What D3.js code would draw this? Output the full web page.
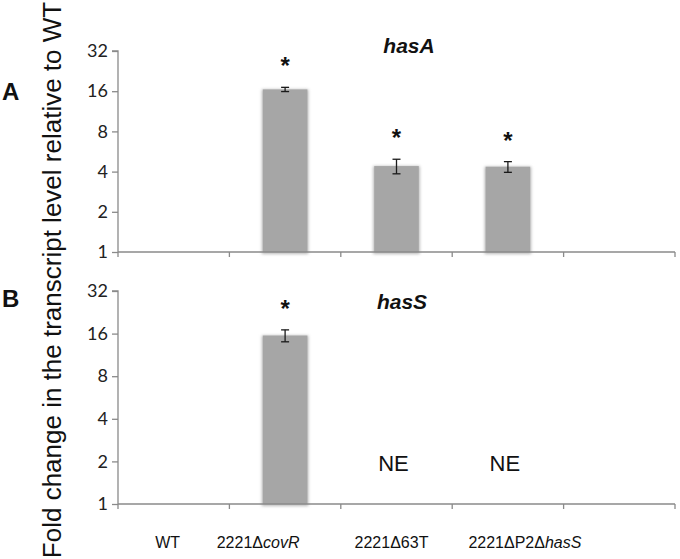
<!DOCTYPE html>
<html>
<head>
<meta charset="utf-8">
<script src="https://cdn.jsdelivr.net/npm/d3@7"></script>
<style>
  html, body { margin: 0; padding: 0; background: #fff; }
  svg { display: block; }
</style>
</head>
<body>
<svg id="chart" width="680" height="559"></svg>
<script>
// ---- data ----
const categories = ["WT", "2221ΔcovR", "2221Δ63T", "2221ΔP2ΔhasS"];
const italicParts = ["", "covR", "", "hasS"];
const hasAValues = [1, 16.5, 4.4, 4.35];
const hasAErrors = [0, 0.6, 0.55, 0.4];
const hasASig = [false, true, true, true];
const hasSValues = [1, 15.5, null, null];
const hasSErrors = [0, 1.5, 0, 0];
const hasSSig = [false, true, false, false];
const yTicks = [1, 2, 4, 8, 16, 32];
const panelTitles = ["hasA", "hasS"];
const panelLetters = ["A", "B"];
const notExpressed = "NE";
const yLabel = "Fold change in the transcript level relative to WT";

// ---- layout / style ----
const left = 118, right = 675;
const axisColor = "#8a8a8a";
const barColor = "#a6a6a6";
const labelNudge = [-6, -27, -5, 17];

const svg = d3.select("#chart");
const defs = svg.append("defs");
defs.append("filter").attr("id", "soft")
  .attr("x", "-20%").attr("y", "-5%").attr("width", "140%").attr("height", "110%")
  .append("feGaussianBlur").attr("stdDeviation", 1.6);

const slots = [...categories, "__empty__"];
const x = d3.scaleBand().domain(slots).range([left, right]).paddingInner(0.6).paddingOuter(0.3);
const step = x.step();
const boundaries = d3.range(slots.length + 1).map(i => left + i * step);
const xc = c => left + (slots.indexOf(c) + 0.5) * step;
const bw = step * 0.4;

const panels = [
  { values: hasAValues, errors: hasAErrors, sig: hasASig, range: [252, 51], title: panelTitles[0], letter: panelLetters[0], letterY: 100, titleY: 53, titleX: 409 },
  { values: hasSValues, errors: hasSErrors, sig: hasSSig, range: [504, 291], title: panelTitles[1], letter: panelLetters[1], letterY: 307, titleY: 309, titleX: 402 }
];

panels.forEach(p => {
  const y = d3.scaleLog().base(2).domain([1, 32]).range(p.range);
  const g = svg.append("g");

  const rows = categories.map((c, i) => ({ c, v: p.values[i], e: p.errors[i], s: p.sig[i] }));
  const withBars = rows.filter(d => d.v != null && d.v > 1);
  g.selectAll("rect.shadow").data(withBars).join("rect")
    .attr("x", d => xc(d.c) - bw / 2 - 1)
    .attr("width", bw + 2)
    .attr("y", d => y(d.v))
    .attr("height", d => y(1) - y(d.v) + 2)
    .attr("fill", "#b8b8b8")
    .attr("filter", "url(#soft)");
  g.selectAll("rect.bar").data(withBars).join("rect")
    .attr("x", d => xc(d.c) - bw / 2)
    .attr("width", bw)
    .attr("y", d => y(d.v))
    .attr("height", d => y(1) - y(d.v))
    .attr("fill", barColor);

  // error bars
  const eb = g.selectAll("g.err").data(withBars.filter(d => d.e > 0)).join("g");
  eb.append("line")
    .attr("x1", d => xc(d.c)).attr("x2", d => xc(d.c))
    .attr("y1", d => y(d.v + d.e)).attr("y2", d => y(d.v - d.e))
    .attr("stroke", "#1a1a1a").attr("stroke-width", 1.3);
  eb.each(function (d) {
    d3.select(this).selectAll("line.cap").data([d.v + d.e, d.v - d.e]).join("line")
      .attr("x1", xc(d.c) - 4).attr("x2", xc(d.c) + 4)
      .attr("y1", v => y(v)).attr("y2", v => y(v))
      .attr("stroke", "#1a1a1a").attr("stroke-width", 1.3);
  });

  // significance asterisks
  g.selectAll("text.sig").data(rows.filter(d => d.s)).join("text")
    .attr("x", d => xc(d.c))
    .attr("y", d => y(d.v + d.e) - 13)
    .attr("text-anchor", "middle")
    .attr("font-family", "Liberation Sans, Arial, sans-serif")
    .attr("font-weight", "bold")
    .attr("font-size", 24)
    .attr("fill", "#111")
    .text("*");

  // NE labels
  g.selectAll("text.ne").data(rows.filter(d => d.v == null)).join("text")
    .attr("x", d => xc(d.c) - 3)
    .attr("y", y(2) + 10)
    .attr("text-anchor", "middle")
    .attr("font-family", "Liberation Sans, Arial, sans-serif")
    .attr("font-size", 22)
    .attr("fill", "#111")
    .text(notExpressed);

  // y axis
  const yAxis = d3.axisLeft(y).tickValues(yTicks).tickFormat(d3.format("d")).tickSize(6).tickPadding(4);
  const ya = svg.append("g").attr("transform", `translate(${left},0)`).call(yAxis);
  ya.select(".domain").attr("stroke", axisColor).attr("stroke-width", 1.3).attr("d", `M-6,${y(32)}H0V${y(1)}`);
  ya.selectAll(".tick line").attr("stroke", axisColor).attr("stroke-width", 1.3);
  ya.selectAll(".tick text").attr("font-family", "Lato, Carlito, sans-serif").attr("font-size", 18).attr("fill", "#222");

  // x axis
  const xa = svg.append("g");
  xa.append("line").attr("x1", left).attr("x2", right).attr("y1", y(1)).attr("y2", y(1))
    .attr("stroke", axisColor).attr("stroke-width", 1.3);
  xa.selectAll("line.t").data(boundaries).join("line")
    .attr("x1", d => d).attr("x2", d => d)
    .attr("y1", y(1)).attr("y2", y(1) + 5)
    .attr("stroke", axisColor).attr("stroke-width", 1.3);

  // title
  svg.append("text")
    .attr("x", p.titleX).attr("y", p.titleY)
    .attr("text-anchor", "middle")
    .attr("font-family", "Liberation Sans, Arial, sans-serif")
    .attr("font-weight", "bold").attr("font-style", "italic")
    .attr("font-size", 21).attr("fill", "#111")
    .text(p.title);

  // panel letter
  svg.append("text")
    .attr("x", 2).attr("y", p.letterY)
    .attr("font-family", "Liberation Sans, Arial, sans-serif")
    .attr("font-weight", "bold")
    .attr("font-size", 24).attr("fill", "#111")
    .text(p.letter);
});

// x category labels (below bottom panel)
const xl = svg.append("g");
categories.forEach((c, i) => {
  const t = xl.append("text")
    .attr("x", xc(c) + labelNudge[i]).attr("y", 548)
    .attr("text-anchor", "middle")
    .attr("font-family", "Liberation Sans, Arial, sans-serif")
    .attr("font-size", 16).attr("fill", "#111");
  const it = italicParts[i];
  if (it && c.endsWith(it)) {
    t.append("tspan").text(c.slice(0, c.length - it.length));
    t.append("tspan").attr("font-style", "italic").text(it);
  } else {
    t.text(c);
  }
});

// y axis label
svg.append("text")
  .attr("transform", "translate(61,280) rotate(-90)")
  .attr("text-anchor", "middle")
  .attr("font-family", "Liberation Sans, Arial, sans-serif")
  .attr("font-size", 26).attr("fill", "#111")
  .text(yLabel);
</script>
</body>
</html>
